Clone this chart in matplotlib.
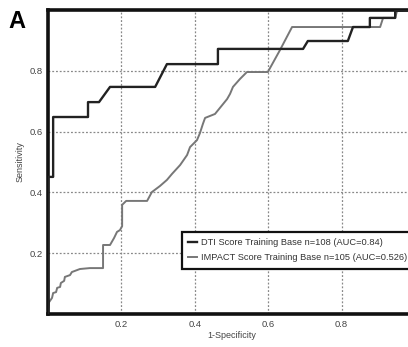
import matplotlib
matplotlib.use("Agg")
import matplotlib.pyplot as plt

# DTI curve (1-specificity, sensitivity)
dti_fpr = [0.0, 0.0, 0.014, 0.014, 0.109, 0.109, 0.139, 0.169, 0.292, 0.324, 0.463, 0.463,
           0.695, 0.708, 0.817, 0.831, 0.877, 0.877, 0.946, 0.946, 1.0]
dti_tpr = [0.0, 0.451, 0.451, 0.648, 0.648, 0.697, 0.697, 0.747, 0.747, 0.822, 0.822, 0.872,
           0.872, 0.898, 0.898, 0.944, 0.944, 0.974, 0.974, 0.997, 1.0]

# IMPACT curve
imp_fpr = [0.0, 0.003, 0.011, 0.014, 0.022, 0.025, 0.033, 0.035, 0.044, 0.046, 0.060, 0.065,
           0.087, 0.114, 0.150, 0.150, 0.169, 0.180, 0.188, 0.196, 0.202, 0.202, 0.213, 0.270,
           0.283, 0.305, 0.324, 0.338, 0.360, 0.379, 0.387, 0.406, 0.414, 0.422, 0.428, 0.455,
           0.488, 0.496, 0.504, 0.523, 0.542, 0.599, 0.632, 0.665, 0.905, 0.913, 0.946, 0.951, 1.0]
imp_tpr = [0.0, 0.039, 0.053, 0.069, 0.072, 0.086, 0.089, 0.102, 0.109, 0.122, 0.128, 0.138,
           0.148, 0.151, 0.151, 0.227, 0.227, 0.250, 0.270, 0.276, 0.289, 0.359, 0.372, 0.372,
           0.401, 0.421, 0.441, 0.461, 0.490, 0.523, 0.549, 0.572, 0.595, 0.625, 0.645, 0.658,
           0.707, 0.724, 0.747, 0.773, 0.796, 0.796, 0.868, 0.944, 0.944, 0.974, 0.974, 0.997, 1.0]

labels = ["DTI Score Training Base n=108 (AUC=0.84)",
          "IMPACT Score Training Base n=105 (AUC=0.526)"]
ticks = [0.2, 0.4, 0.6, 0.8]
tick_labels = ["0.2", "0.4", "0.6", "0.8"]

font = ["Liberation Sans Narrow", "Liberation Sans", "DejaVu Sans"]
plt.rcParams["font.family"] = font

fig = plt.figure(figsize=(4.08, 3.47), dpi=100)
ax = fig.add_axes([48 / 408, 1 - 314 / 347, 367 / 408, 304 / 347])

ax.plot(dti_fpr, dti_tpr, color="#222222", lw=1.7, label=labels[0], zorder=3)
ax.plot(imp_fpr, imp_tpr, color="#777777", lw=1.4, label=labels[1], zorder=2)

ax.set_xlim(0, 1)
ax.set_ylim(0, 1)
ax.set_xticks(ticks)
ax.set_xticklabels(tick_labels)
ax.set_yticks(ticks)
ax.set_yticklabels(tick_labels)
ax.tick_params(length=0, labelsize=6.8, colors="#444444", pad=4)
ax.grid(True, linestyle=(0, (1.5, 1.5)), color="#888888", lw=0.9)
for s in ["left", "top", "bottom"]:
    ax.spines[s].set_linewidth(2.6)
    ax.spines[s].set_color("#111111")
ax.spines["right"].set_visible(False)

ax.set_xlabel("1-Specificity", fontsize=6.5, color="#444444", labelpad=2)
ax.set_ylabel("Sensitivity", fontsize=6.5, color="#444444", labelpad=3)

leg = ax.legend(loc="upper left", bbox_to_anchor=(0.365, 0.0, 0.72, 0.27), mode="expand",
                fontsize=6.7, fancybox=False, framealpha=1, edgecolor="#111111",
                handlelength=0.9, handletextpad=0.5, borderpad=0.7,
                labelspacing=0.6, borderaxespad=0)
leg.get_frame().set_linewidth(1.6)
for t in leg.get_texts():
    t.set_color("#333333")

fig.text(8 / 408, 1 - 22 / 347, "A", fontsize=17, fontweight="bold", va="center", ha="left",
         family=["Liberation Sans Narrow", "Liberation Sans"])

fig.savefig("out.png", dpi=100)
